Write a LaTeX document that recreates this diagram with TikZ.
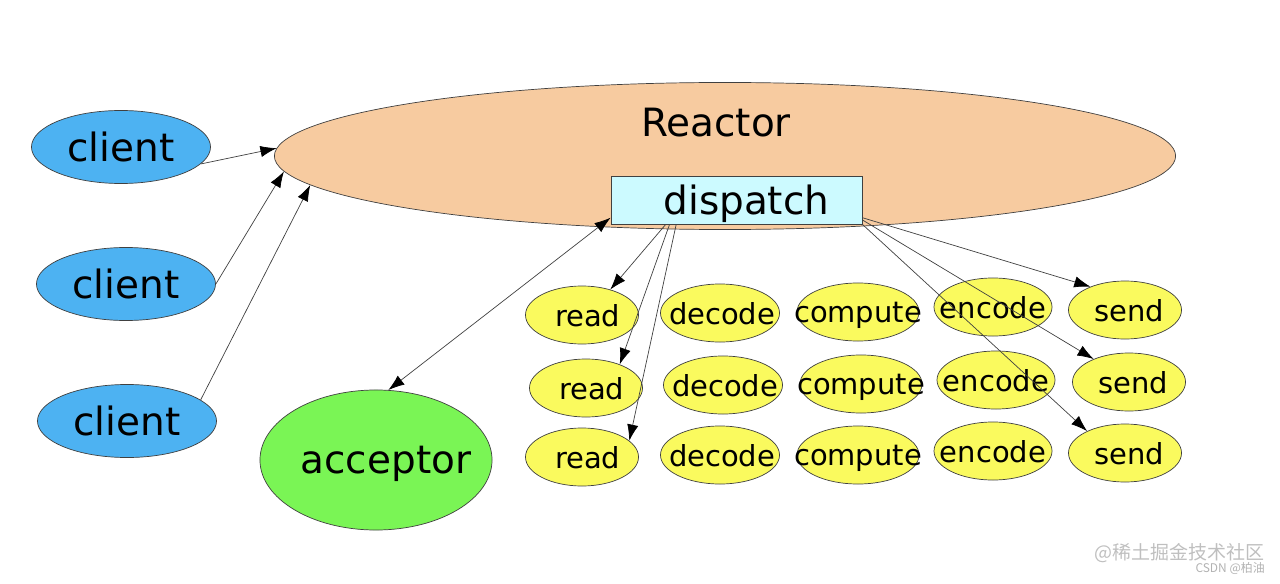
\documentclass[tikz,border=0pt]{standalone}
\usepackage{fontspec}
\setmainfont{DejaVu Sans}
\newfontfamily\cjkfont{Noto Sans CJK SC}
\usetikzlibrary{arrows.meta}
\usetikzlibrary{shapes.geometric}
\definecolor{reactorfill}{HTML}{F7CBA0}
\definecolor{clientfill}{HTML}{4DB2F2}
\definecolor{acceptorfill}{HTML}{7AF555}
\definecolor{taskfill}{HTML}{FAFA5E}
\definecolor{dispatchfill}{HTML}{CCFAFF}
\newcommand{\zw}[1]{\makebox[0pt]{#1}}
\tikzset{big/.style = {font=\fontsize{27.7}{30}\selectfont},
         small/.style = {font=\fontsize{20.6}{24}\selectfont},
         blob/.style = {ellipse, draw=black!75, line width=0.5pt, inner sep=0pt,
                        text depth=0pt},
         client/.style = {blob, fill=clientfill, big,
                          minimum width=4.475cm, minimum height=1.825cm},
         task/.style = {blob, fill=taskfill, small, minimum height=1.45cm},
         conn/.style = {draw=black!75, line width=0.5pt}}

\begin{document}
\begin{tikzpicture}[x=0.025cm, y=-0.025cm,
                    >={Latex[length=11.5pt,width=8pt,color=black]}]
    \useasboundingbox (0, 0) rectangle (1280, 584);

    \node (reactor) [blob, fill=reactorfill, minimum width=22.525cm,
                     minimum height=3.675cm] at (725, 156) {};
    \node (title) [big] at (716, 123) {Reactor};
    \node (dispatch) [draw=black!75, line width=0.5pt, fill=dispatchfill, big,
                      minimum width=6.275cm, minimum height=1.2cm,
                      inner sep=0pt, text depth=0pt] at (736.5, 200) {\hspace{14pt}dispatch};

    \node (client1) [client] at (121, 147) {\zw{client}};
    \node (client2) [client] at (126, 284) {\zw{client}};
    \node (client3) [client] at (127, 421) {\zw{client}};

    \node (acceptor) [blob, fill=acceptorfill, big, minimum width=5.8cm,
                      minimum height=3.5cm] at (376, 460) {\hspace{14pt}\zw{acceptor}};

    \node (read1) [task, minimum width=2.825cm] at (582, 315) {\hspace{8pt}\zw{read}};
    \node (read2) [task, minimum width=2.825cm] at (586, 388) {\hspace{8pt}\zw{read}};
    \node (read3) [task, minimum width=2.825cm] at (582, 457) {\hspace{8pt}\zw{read}};
    \node (decode1) [task, minimum width=2.975cm] at (720, 313) {\hspace{3pt}\zw{decode}};
    \node (decode2) [task, minimum width=2.975cm] at (723, 385) {\hspace{3pt}\zw{decode}};
    \node (decode3) [task, minimum width=2.975cm] at (720, 455) {\hspace{3pt}\zw{decode}};
    \node (compute1) [task, minimum width=3.05cm] at (858, 312) {\zw{compute}};
    \node (compute2) [task, minimum width=3.05cm] at (861, 384) {\zw{compute}};
    \node (compute3) [task, minimum width=3.05cm] at (858, 455) {\zw{compute}};
    \node (encode1) [task, minimum width=2.95cm] at (993, 307) {\zw{encode}};
    \node (encode2) [task, minimum width=2.95cm] at (996, 380) {\zw{encode}};
    \node (encode3) [task, minimum width=2.95cm] at (993, 451) {\zw{encode}};
    \node (send1) [task, minimum width=2.825cm] at (1125, 310) {\hspace{6pt}\zw{send}};
    \node (send2) [task, minimum width=2.825cm] at (1129, 382) {\hspace{6pt}\zw{send}};
    \node (send3) [task, minimum width=2.825cm] at (1125, 453) {\hspace{6pt}\zw{send}};

    % clients into the reactor
    \draw [conn, ->] (client1.-12) -- (reactor.179.2);
    \draw [conn, ->] (client2.east) -- (reactor.182.9);
    \draw [conn, ->] (client3.16) -- (reactor.184.3);

    \draw [conn, <->] (acceptor.80) -- (dispatch.188.2);

    % dispatch fans out
    \draw [conn, ->] (dispatch.199.3) -- (read1.42);
    \draw [conn, ->] (dispatch.200.7) -- (read2.35);
    \draw [conn, ->] (dispatch.202) -- (read3.19);
    \draw [conn, ->] (dispatch.-8.2) -- (send1.146);
    \draw [conn, ->] (dispatch.-9.6) -- (send2.147);
    \draw [conn, ->] (dispatch.south east) -- (send3.150);

    \node (mark) [anchor=east, text=black!25, font=\cjkfont\fontsize{13.5}{15}\selectfont,
                  inner sep=0pt] at (1265, 553) {@稀土掘金技术社区};
    \node (author) [anchor=east, text=black!30, font=\cjkfont\fontsize{8.5}{10}\selectfont,
                    inner sep=0pt] at (1265, 569) {CSDN @柏油};
\end{tikzpicture}
\end{document}
